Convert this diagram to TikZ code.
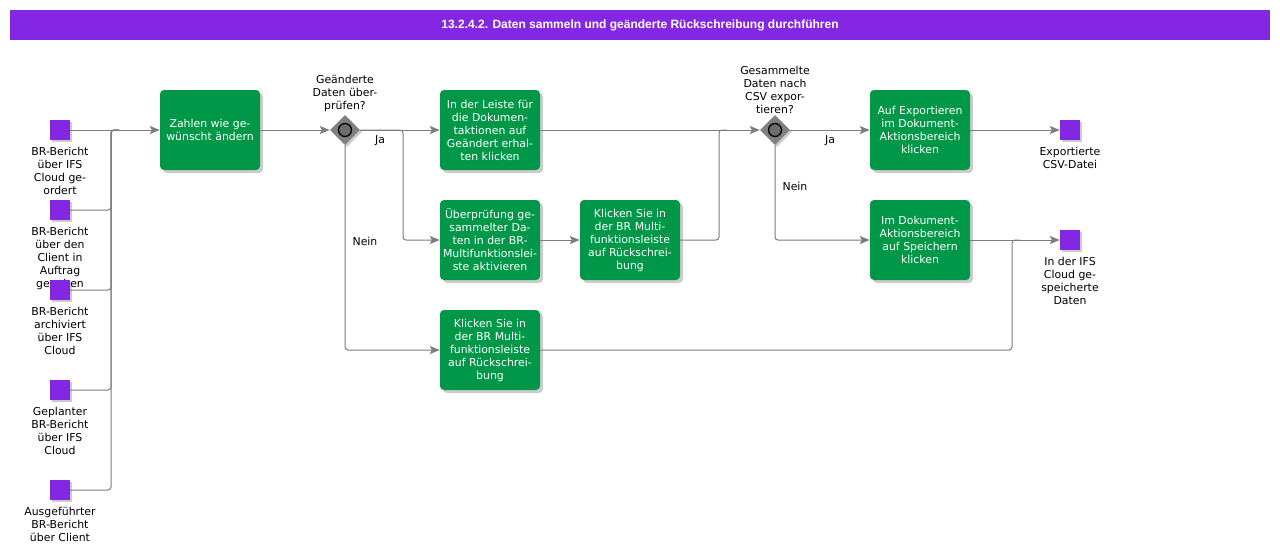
\documentclass[tikz,border=0pt]{standalone}
\usepackage{fontspec}
\setmainfont{DejaVu Sans}
\newfontfamily\titlefont{Liberation Sans}
\usetikzlibrary{shapes.geometric,arrows.meta,shadows}
\definecolor{taskgreen}{RGB}{0,152,72}
\definecolor{eventpurple}{RGB}{132,39,226}
\definecolor{gategray}{RGB}{128,128,128}
\definecolor{linegray}{RGB}{125,125,125}
\begin{document}
\begin{tikzpicture}[x=1pt, y=-1pt, font=\fontsize{10.9}{13}\selectfont,
    task/.style = {fill=taskgreen, rounded corners=4pt, minimum width=100pt, minimum height=80pt, text=white, align=center, inner sep=1pt, drop shadow={shadow xshift=3pt, shadow yshift=-3pt, fill=black, opacity=0.2}},
    event/.style = {fill=eventpurple, minimum size=20pt, inner sep=0pt, drop shadow={shadow xshift=2pt, shadow yshift=-2pt, fill=black, opacity=0.2}},
    lab/.style = {align=center, inner sep=1pt},
    gate/.style = {diamond, fill=gategray, minimum width=30pt, minimum height=30pt, inner sep=0pt, drop shadow={shadow xshift=2pt, shadow yshift=-2pt, fill=black, opacity=0.2}},
    flow/.style = {draw=linegray, line width=1pt, rounded corners=3pt},
    arr/.style = {flow, -{Stealth[length=10pt, width=8pt, inset=2pt]}}]

    \useasboundingbox (0,0) rectangle (1280,555);

    % title
    \node [fill=eventpurple, minimum width=1260pt, minimum height=30pt, text=white, font=\titlefont\bfseries\fontsize{12}{13}\selectfont] (title) at (640,25) {13.2.4.2. Daten sammeln und geänderte Rückschreibung durchführen};

    % start events
    \node [event, label={[lab, label distance=6pt]below:BR-Bericht\\über IFS\\Cloud ge-\\ordert}] (s1) at (60,130) {};
    \node [event, label={[lab, label distance=6pt]below:BR-Bericht\\über den\\Client in\\Auftrag\\gegeben}] (s2) at (60,210) {};
    \node [event, label={[lab, label distance=6pt]below:BR-Bericht\\archiviert\\über IFS\\Cloud}] (s3) at (60,290) {};
    \node [event, label={[lab, label distance=6pt]below:Geplanter\\BR-Bericht\\über IFS\\Cloud}] (s4) at (60,390) {};
    \node [event, label={[lab, label distance=6pt]below:Ausgeführter\\BR-Bericht\\über Client}] (s5) at (60,490) {};
    \coordinate (m1) at (111,130);

    % tasks
    \node [task] (t1) at (210,130) {Zahlen wie ge-\\wünscht ändern};
    \node [task] (t2) at (490,130) {In der Leiste für\\die Dokumen-\\taktionen auf\\Geändert erhal-\\ten klicken};
    \node [task] (t3) at (490,240) {Überprüfung ge-\\sammelter Da-\\ten in der BR-\\Multifunktionslei-\\ste aktivieren};
    \node [task] (t4) at (630,240) {Klicken Sie in\\der BR Multi-\\funktionsleiste\\auf Rückschrei-\\bung};
    \node [task] (t5) at (490,350) {Klicken Sie in\\der BR Multi-\\funktionsleiste\\auf Rückschrei-\\bung};
    \node [task] (t6) at (920,130) {Auf Exportieren\\im Dokument-\\Aktionsbereich\\klicken};
    \node [task] (t7) at (920,240) {Im Dokument-\\Aktionsbereich\\auf Speichern\\klicken};

    % gateways
    \node [gate, label={[lab, label distance=2pt]above:Geänderte\\Daten über-\\prüfen?}] (g1) at (345,130) {};
    \node [gate, label={[lab, label distance=0pt]above:Gesammelte\\Daten nach\\CSV expor-\\tieren?}] (g2) at (775,130) {};
    \foreach \g in {g1,g2}
        \draw [black, line width=1.3pt, fill=gategray!85!black] (\g) circle (6.5pt);
    \coordinate (b1) at (403,130);
    \coordinate (j2) at (719,130);
    \coordinate (j3) at (1012,240);

    % end events
    \node [event, label={[lab, label distance=6pt]below:Exportierte\\CSV-Datei}] (e1) at (1070,130) {};
    \node [event, label={[lab, label distance=6pt]below:In der IFS\\Cloud ge-\\speicherte\\Daten}] (e2) at (1070,240) {};

    % edge labels
    \node (ja1) at (380,141) {Ja};
    \node (nein1) at (365,241) {Nein};
    \node (ja2) at (830,141) {Ja};
    \node (nein2) at (795,186) {Nein};

    % flows
    \foreach \s in {s2,s3,s4,s5}
        \draw [flow] (\s.east) -| (m1) -- ++(8,0);
    \draw [arr] (s1) -- (t1);
    \draw [arr] (t1) -- (g1);
    \draw [arr] (g1) -- (t2);
    \draw [arr] (g1.east) -- (b1) |- (t3);
    \draw [arr] (g1.south) |- (t5);
    \draw [arr] (t3) -- (t4);
    \draw [arr] (t2) -- (g2);
    \draw [flow] (t4.east) -| (j2) -- ++(8,0);
    \draw [arr] (g2) -- (t6);
    \draw [arr] (g2.south) |- (t7);
    \draw [arr] (t6) -- (e1);
    \draw [arr] (t7) -- (e2);
    \draw [flow] (t5.east) -| (j3) -- ++(8,0);

\end{tikzpicture}
\end{document}
